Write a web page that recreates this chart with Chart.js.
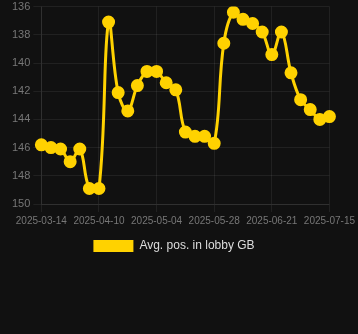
<!DOCTYPE html>
<html>
<head>
<meta charset="utf-8">
<script src="https://cdn.jsdelivr.net/npm/chart.js@4"></script>
<style>
  html, body { margin: 0; padding: 0; background: #111111; overflow: hidden; }
  #wrap { width: 358px; height: 265px; position: relative; margin-top: -3px; }
</style>
</head>
<body>
<div id="wrap"><canvas id="posChart"></canvas></div>
<script>
const dates = [
  "2025-03-14", "2025-03-19", "2025-03-23", "2025-03-28", "2025-04-01", "2025-04-06",
  "2025-04-10", "2025-04-14", "2025-04-18", "2025-04-22", "2025-04-26", "2025-04-30",
  "2025-05-04", "2025-05-08", "2025-05-12", "2025-05-16", "2025-05-20", "2025-05-24",
  "2025-05-28", "2025-06-01", "2025-06-05", "2025-06-09", "2025-06-13", "2025-06-17",
  "2025-06-21", "2025-06-25", "2025-06-29", "2025-07-03", "2025-07-07", "2025-07-11",
  "2025-07-15"
];

const avgPos = [
  145.8, 146.0, 146.1, 147.0, 146.1, 148.9,
  148.9, 137.1, 142.1, 143.4, 141.6, 140.6,
  140.6, 141.4, 141.9, 144.9, 145.2, 145.2,
  145.7, 138.6, 136.4, 136.9, 137.2, 137.8,
  139.4, 137.8, 140.7, 142.6, 143.3, 144.0,
  143.8
];

const yTicks = { min: 136, max: 150, step: 2 };

const gold = "#FFD200";

const ctx = document.getElementById("posChart").getContext("2d");
const chart = new Chart(ctx, {
  type: "line",
  data: {
    labels: dates,
    datasets: [
      {
        label: "Avg. pos. in lobby GB",
        data: avgPos,
        borderColor: gold,
        backgroundColor: gold,
        borderWidth: 3,
        pointRadius: 5,
        pointHoverRadius: 6,
        tension: 0.4,
      },
    ],
  },
  options: {
    responsive: true,
    maintainAspectRatio: false,
    animation: false,
    // right padding only shifts the legend; the x labels still set the plot's right edge
    layout: { padding: { left: 9, right: 19, top: 0, bottom: 0 } },
    scales: {
      x: {
        grid: { color: "rgba(255,255,255,0.07)" },
        border: { color: "rgba(255,255,255,0.07)" },
        ticks: {
          color: "#777777",
          font: { size: 10 },
          maxRotation: 0,
          autoSkip: false,
          callback: function (value, index) {
            return index % 6 === 0 ? this.getLabelForValue(value) : null;
          },
        },
      },
      y: {
        reverse: true,
        min: yTicks.min,
        max: yTicks.max,
        grid: { color: "rgba(255,255,255,0.07)" },
        border: { color: "rgba(255,255,255,0.07)" },
        ticks: {
          stepSize: yTicks.step,
          color: "#777777",
          font: { size: 11 },
        },
      },
    },
    plugins: {
      legend: {
        position: "bottom",
        labels: {
          color: "#dddddd",
          font: { size: 12 },
          boxWidth: 40,
          boxHeight: 12,
          generateLabels: function (c) {
            // plain filled box, no stroke round it
            return Chart.defaults.plugins.legend.labels.generateLabels(c).map(function (item) {
              item.lineWidth = 0;
              return item;
            });
          },
        },
      },
      tooltip: { enabled: false },
    },
  },
});
</script>
</body>
</html>
